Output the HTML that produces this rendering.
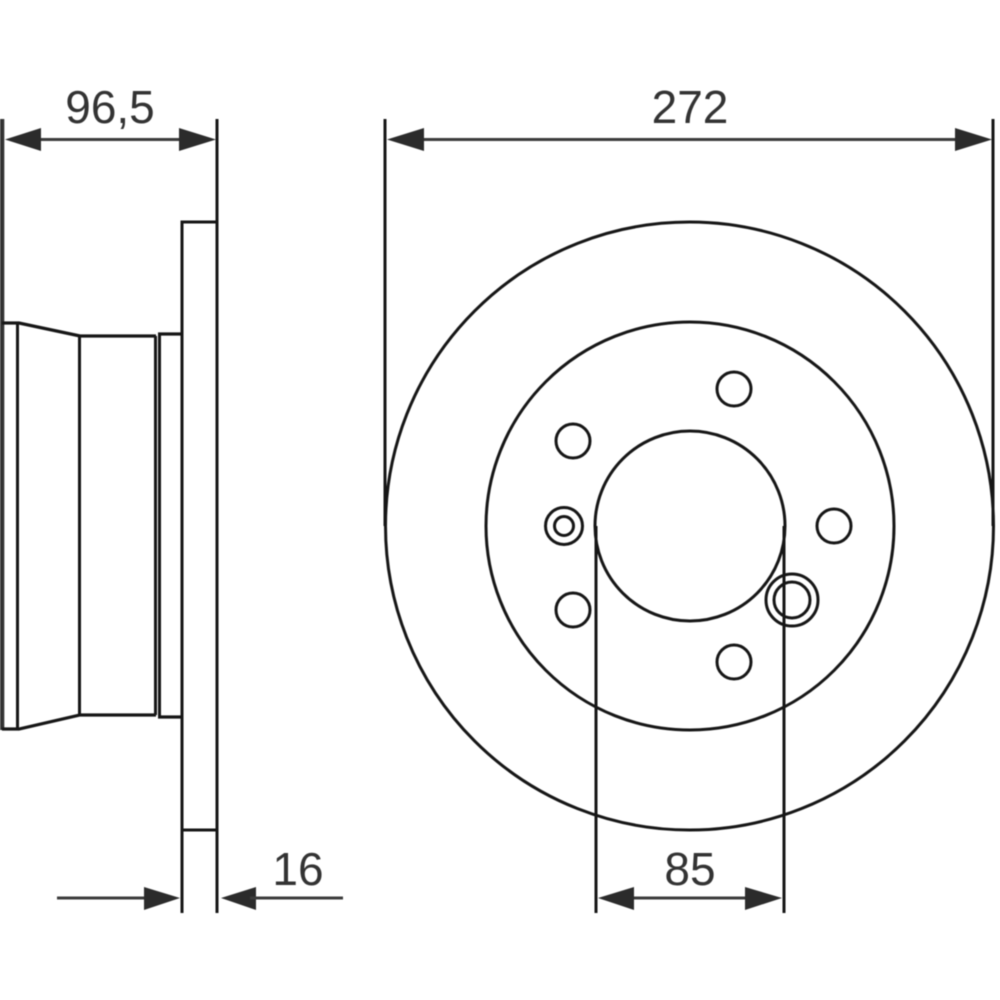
<!DOCTYPE html>
<html>
<head>
<meta charset="utf-8">
<style>
html,body{margin:0;padding:0;background:#fff;width:1000px;height:1000px;overflow:hidden}
svg{display:block;filter:blur(.45px)}
text{font-family:"Liberation Sans",sans-serif;font-size:46px;fill:#333;text-anchor:middle}
.l{stroke:#161616;stroke-width:3;fill:none}
.t{stroke:#161616;stroke-width:3.2;fill:none}
.d{stroke:#3c3c3c;stroke-width:3;fill:none}
.a{fill:#2b2b2b;stroke:none}
</style>
</head>
<body>
<svg width="1000" height="1000" viewBox="0 0 1000 1000" xmlns="http://www.w3.org/2000/svg">
<rect width="1000" height="1000" fill="#fff"/>

<!-- Side view -->
<line x1="2" y1="119" x2="2" y2="730" stroke="#333" stroke-width="4.6"/>
<line class="l" x1="217" y1="119" x2="217" y2="913"/>
<polyline class="l" points="182,913 182,222 217,222"/>
<line class="l" x1="182" y1="830" x2="217" y2="830"/>
<polyline class="t" points="2,323 19,323 80,336 156,336"/>
<polyline class="t" points="158,334 182,334"/>
<polyline class="t" points="2,729 19,729 80,715 156,715"/>
<polyline class="t" points="158,717 182,717"/>
<line class="l" x1="17.5" y1="323" x2="17.5" y2="729"/>
<line class="l" x1="79.5" y1="336" x2="79.5" y2="715"/>
<line class="l" x1="155.5" y1="336" x2="155.5" y2="715"/>
<line class="l" x1="159.5" y1="334" x2="159.5" y2="717"/>

<!-- Front view -->
<circle class="l" cx="689.5" cy="526" r="304"/>
<circle class="l" cx="690" cy="526" r="204"/>
<circle class="l" cx="690" cy="526" r="95"/>
<circle class="l" cx="734" cy="389" r="17"/>
<circle class="l" cx="573" cy="441" r="17"/>
<circle class="l" cx="834" cy="526" r="17"/>
<circle class="l" cx="573" cy="610" r="17"/>
<circle class="l" cx="734" cy="662" r="17"/>
<circle class="l" cx="564" cy="526" r="18.5"/>
<circle class="l" cx="564" cy="526" r="9.5"/>
<circle class="l" cx="792" cy="600" r="26"/>
<circle class="l" cx="792" cy="600" r="18"/>

<!-- Dimension extension lines -->
<line class="l" x1="385" y1="119" x2="385" y2="526"/>
<line class="l" x1="993" y1="119" x2="993" y2="526"/>
<line class="l" x1="596" y1="526" x2="596" y2="913"/>
<line class="l" x1="784" y1="526" x2="784" y2="913"/>

<!-- 96,5 -->
<line class="d" x1="30" y1="139.5" x2="190" y2="139.5"/>
<polygon class="a" points="5,139.5 41,128 41,151"/>
<polygon class="a" points="216,139.5 179,128 179,151"/>
<text x="110" y="123">96,5</text>

<!-- 272 -->
<line class="d" x1="410" y1="139.5" x2="970" y2="139.5"/>
<polygon class="a" points="387,139.5 424,128 424,151"/>
<polygon class="a" points="992,139.5 955,128 955,151"/>
<text x="690" y="123">272</text>

<!-- 16 -->
<line class="d" x1="57" y1="898" x2="150" y2="898"/>
<polygon class="a" points="180,898 144,887 144,910"/>
<polygon class="a" points="221,898 256,887 256,910"/>
<line class="d" x1="250" y1="898" x2="343" y2="898"/>
<text x="298" y="885">16</text>

<!-- 85 -->
<line class="d" x1="620" y1="898" x2="760" y2="898"/>
<polygon class="a" points="598,898 634,887 634,910"/>
<polygon class="a" points="782,898 745,887 745,910"/>
<text x="690" y="885">85</text>
</svg>
</body>
</html>
